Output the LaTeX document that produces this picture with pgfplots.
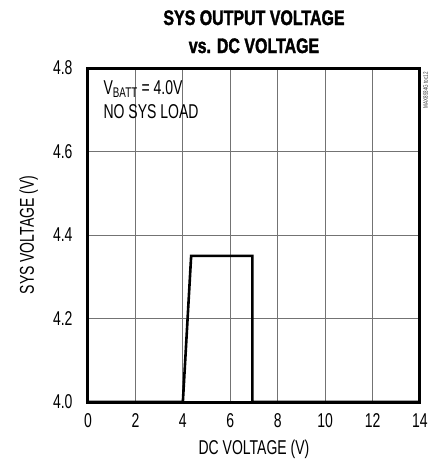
\documentclass[border=0pt]{standalone}
\usepackage{fontspec}
\setmainfont{Liberation Sans}[FakeStretch=0.7]
\newfontfamily\titlefont{Liberation Sans Bold}[FakeStretch=0.76,FakeBold=1.6]
\usepackage{pgfplots}
\pgfplotsset{compat=1.18}
\begin{document}
\begin{tikzpicture}
\useasboundingbox (-88pt,-62pt) rectangle (343pt,402pt);
\begin{axis}[
  at={(0,0)}, anchor=south west,
  scale only axis,
  width=332pt, height=334pt,
  xmin=0, xmax=14, ymin=4.0, ymax=4.8,
  xtick={0,2,...,14}, ytick={4.0,4.2,4.4,4.6,4.8},
  yticklabel style={/pgf/number format/fixed, /pgf/number format/fixed zerofill, /pgf/number format/precision=1, xshift=-12pt},
  /pgf/number format/assume math mode=true,
  major tick length=0pt,
  grid=major,
  major grid style={black!55, line width=0.8pt},
  tick label style={font=\fontsize{20}{22}\selectfont},
  xticklabel style={yshift=-8pt},
  label style={font=\fontsize{20}{22}\selectfont},
  xlabel={DC VOLTAGE (V)},
  ylabel={SYS VOLTAGE (V)},
  xlabel style={yshift=-5pt},
  ylabel style={yshift=8pt},
  clip=false,
]
\addplot[black, line width=2.6pt, line join=miter] coordinates {
  (0,4.0) (4.0,4.0) (4.35,4.35) (6.93,4.35) (6.93,4.0) (14,4.0)
};
\draw[line width=3pt] (rel axis cs:0,0) rectangle (rel axis cs:1,1);
\node[anchor=north west, align=left, font=\fontsize{20}{24}\selectfont, inner sep=0pt]
  at (axis cs:0.65,4.77) {V\textsubscript{BATT} = 4.0V\\NO SYS LOAD};
\node[rotate=90, anchor=east, font=\fontsize{6.5}{7}\selectfont, text=black!80, inner sep=0pt]
  at (axis cs:14.24,4.79) {MAX8934G toc12};
\node[anchor=base, align=center, font=\titlefont\fontsize{21}{28}\selectfont, inner sep=0pt]
  at ([yshift=15pt]rel axis cs:0.5,1) {SYS OUTPUT VOLTAGE\\vs. DC VOLTAGE};
\end{axis}
\end{tikzpicture}
\end{document}
